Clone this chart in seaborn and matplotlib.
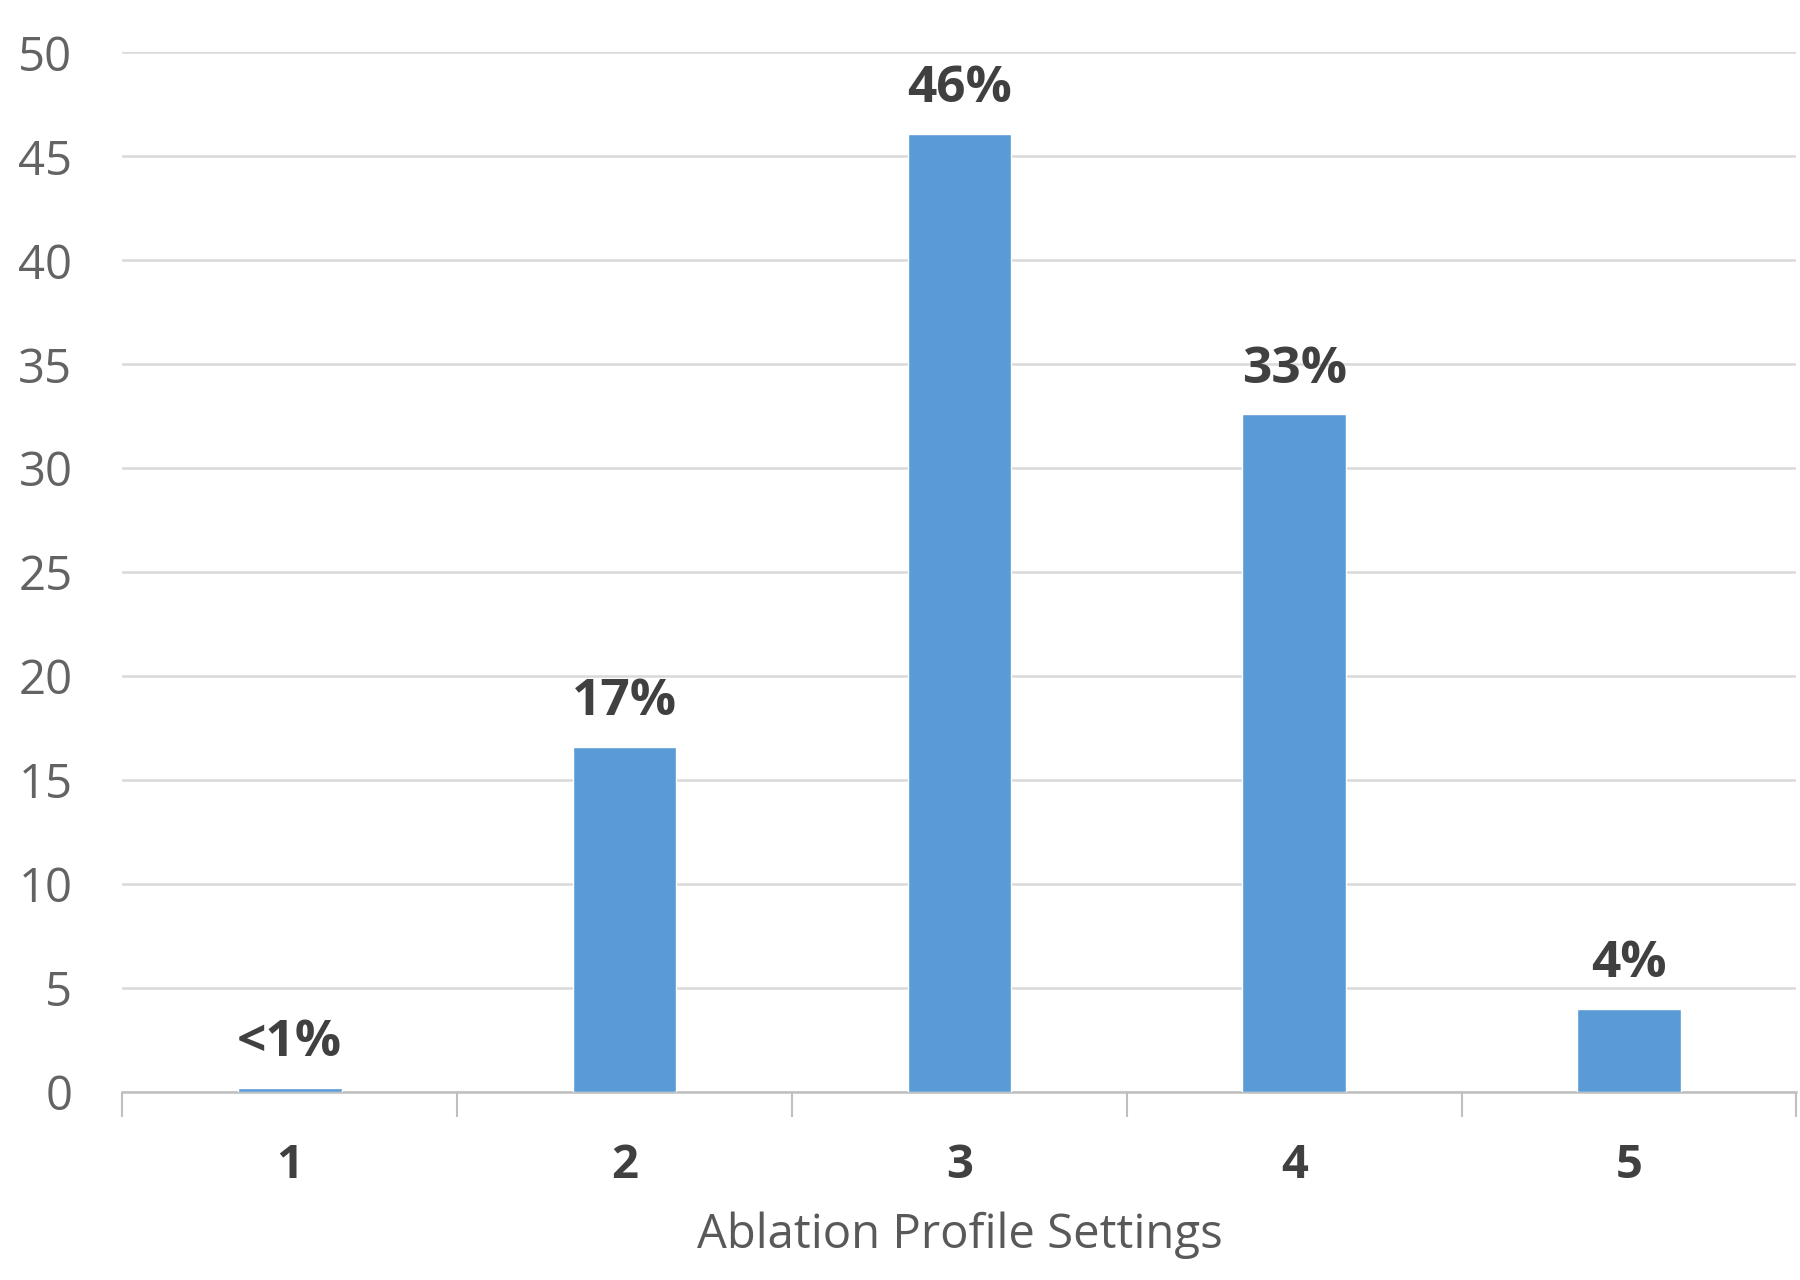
import seaborn as sns
import matplotlib.pyplot as plt
import pandas as pd

settings = ['1', '2', '3', '4', '5']
counts = [0.2, 16.6, 46.1, 32.6, 4.0]
pct_labels = ['<1%', '17%', '46%', '33%', '4%']

df = pd.DataFrame({'setting': settings, 'count': counts})

sns.set_style('white')
plt.rcParams['font.family'] = ['Open Sans', 'DejaVu Sans']

fig = plt.figure(figsize=(18, 12.8), dpi=100)
ax = fig.add_axes([0.068, 0.147, 0.93, 0.812])

sns.barplot(data=df, x='setting', y='count', color='#5B9BD5', width=0.31,
            saturation=1, ax=ax, zorder=3)

# labels above bars
ax.bar_label(ax.containers[0], labels=pct_labels, padding=14,
             fontsize=37, fontweight='bold', color='#404040')

ax.set_ylim(0, 50)
ax.set_yticks(range(0, 51, 5))
ax.set_xlim(-0.5, 4.5)
ax.yaxis.grid(True, color='#D9D9D9', linewidth=1.8, zorder=0)
ax.set_axisbelow(True)

for s in ['top', 'right', 'left']:
    ax.spines[s].set_visible(False)
ax.spines['bottom'].set_color('#BFBFBF')
ax.spines['bottom'].set_linewidth(1.8)

ax.tick_params(axis='y', length=0, labelsize=34, labelcolor='#636363', pad=36)
ax.tick_params(axis='x', length=0, labelsize=34, labelcolor='#404040', pad=36)
for t in ax.get_xticklabels():
    t.set_fontweight('bold')

# small tick marks between categories
ax.set_xticks([-0.5, 0.5, 1.5, 2.5, 3.5, 4.5], minor=True)
ax.tick_params(axis='x', which='minor', bottom=True, length=18, width=1.5,
               color='#BFBFBF', direction='out')

ax.set_xlabel('Ablation Profile Settings', fontsize=34, color='#595959', labelpad=16)
ax.set_ylabel('')

plt.savefig('out.png', dpi=100)
